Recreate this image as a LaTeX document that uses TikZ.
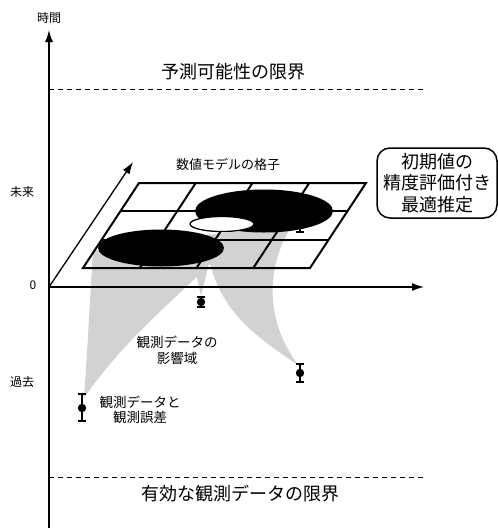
\documentclass[tikz,border=0pt]{standalone}
\usepackage{fontspec}
\setmainfont{Noto Sans CJK JP}
\usetikzlibrary{arrows.meta,calc}
\tikzset{
  axisline/.style={line width=1.3pt,-{Latex[length=12pt,width=8pt]}},
  limitline/.style={line width=0.8pt,dash pattern=on 5pt off 4pt},
  gridline/.style={line width=2pt,line join=miter},
  cone/.style={fill=gray!35},
  blob/.style={fill=black},
  ebar/.style={line width=1.3pt},
  lbl/.style={inner sep=0pt,align=center},
}
\begin{document}
\begin{tikzpicture}[x=1pt,y=-1pt]
\useasboundingbox (0,0) rectangle (498,528);
% axes coordinates
\coordinate (o) at (49,287);
\coordinate (tbot) at (49,528);
\coordinate (ttop) at (49,30);
\coordinate (xend) at (424,287);
\coordinate (dend) at (133,162);
% influence cones
\fill[cone] (84,398) .. controls (88,340) and (90,300) .. (93,250) -- (222,250) .. controls (205,275) and (130,330) .. (84,398) -- cycle;
\fill[cone] (299,366) .. controls (255,335) and (212,310) .. (205,235) -- (292,226) .. controls (268,262) and (262,318) .. (299,366) -- cycle;
\fill[cone] (201,296) -- (192,255) -- (211,255) -- cycle;
% axes
\draw[axisline] (tbot) -- (ttop);
\draw[axisline] (o) -- (xend);
\draw[axisline] (o) -- (dend);
% limit lines
\coordinate (l1a) at (49,89); \coordinate (l1b) at (427,89);
\coordinate (l2a) at (49,477); \coordinate (l2b) at (425,477);
\draw[limitline] (l1a) -- (l1b);
\draw[limitline] (l2a) -- (l2b);
% grid
\coordinate (g00) at (83,268);
\coordinate (g40) at (310,268);
\coordinate (g04) at (139,183);
\coordinate (g44) at (366,183);
\draw[gridline] (g00) -- (g40) -- (g44) -- (g04) -- cycle;
\foreach \i in {1,2,3} {
  \draw[gridline] ($(g00)!\i/4!(g40)$) -- ($(g04)!\i/4!(g44)$);
}
\foreach \i in {1,2} {
  \draw[gridline] ($(g00)!\i/3!(g04)$) -- ($(g40)!\i/3!(g44)$);
}
% ellipses
\fill[blob] (161,248) ellipse [x radius=63, y radius=18.5];
\fill[blob] (264,211) ellipse [x radius=69, y radius=21.5];
\draw[line width=1.3pt,fill=white] (222,224) ellipse [x radius=32, y radius=7.5];
% small in-grid error bar
\draw[ebar] (300,223) -- (300,232) (296,232) -- (304,232);
% observations
\draw[ebar] (82,394) -- (82,421) (78,394) -- (86,394) (78,421) -- (86,421);
\fill (82,408) circle (4.2);
\draw[ebar] (201,297) -- (201,307) (197,297) -- (205,297) (197,307) -- (205,307);
\fill (201,302) circle (4.2);
\draw[ebar] (300,364) -- (300,382) (296,364) -- (304,364) (296,382) -- (304,382);
\fill (300,373) circle (4.2);
% labels
\node[lbl,font=\fontsize{12}{12}\selectfont] (time) at (49,18) {時間};
\node[lbl,font=\fontsize{12}{12}\selectfont] (future) at (22,192) {未来};
\node[lbl,font=\fontsize{12}{12}\selectfont] (past) at (22,382) {過去};
\node[lbl,font=\fontsize{12}{12}\selectfont] (zero) at (33,285) {0};
\node[lbl,font=\fontsize{18}{18}\selectfont] (pred) at (233,72) {予測可能性の限界};
\node[lbl,font=\fontsize{18}{18}\selectfont] (obslim) at (240,494) {有効な観測データの限界};
\node[lbl,font=\fontsize{13}{13}\selectfont] (gridl) at (228,164) {数値モデルの格子};
\node[lbl,font=\fontsize{13.5}{16}\selectfont] (infl) at (177,350) {観測データの\\影響域};
\node[lbl,font=\fontsize{13.5}{14.5}\selectfont] (obsl) at (140,410) {観測データと\\観測誤差};
\draw[line width=1.5pt,rounded corners=13pt] (377,148) rectangle (497,218);
\node[lbl,font=\fontsize{18}{21.5}\selectfont] (est) at (437,183) {初期値の\\精度評価付き\\最適推定};
\end{tikzpicture}
\end{document}
